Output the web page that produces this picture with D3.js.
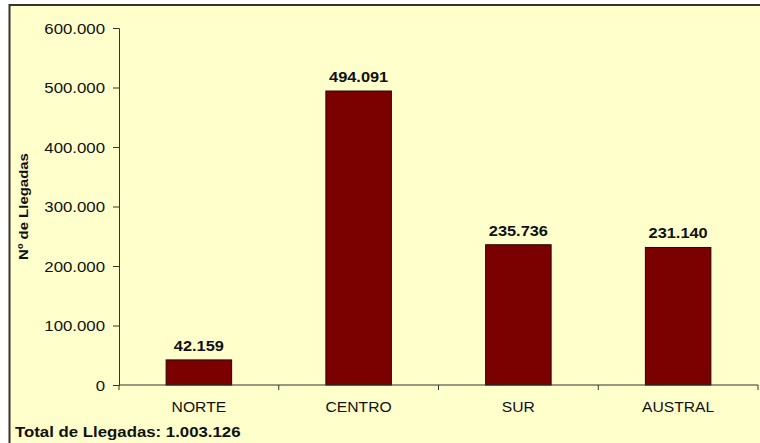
<!DOCTYPE html>
<html>
<head>
<meta charset="utf-8">
<script src="https://cdn.jsdelivr.net/npm/d3@7"></script>
<style>
  body { margin: 0; background: #fff; }
  svg text { font-family: Arial, "Liberation Sans", sans-serif; fill: #111; }
</style>
</head>
<body>
<svg id="chart" width="760" height="443"></svg>
<script>
// Llegadas por zona
const zonas = ['NORTE', 'CENTRO', 'SUR', 'AUSTRAL'];
const llegadas = [42159, 494091, 235736, 231140];
const yTicks = [0, 100000, 200000, 300000, 400000, 500000, 600000];
const totalLabel = 'Total de Llegadas: 1.003.126';

const W = 760, H = 443;
const margin = { left: 119, right: 2, top: 28, bottom: 58 };
const FONT = 14;

// thousands separated with a dot
const fmt = (v) => d3.format(',')(v).replace(/,/g, '.');

// the original text is drawn wider than Arial: stretch horizontally around the anchor
function stretch(sel, sx) {
    sel.each(function () {
        const t = d3.select(this);
        const x0 = +t.attr('x') || 0;
        const y0 = +t.attr('y') || 0;
        const prev = t.attr('transform') || '';
        t.attr('x', 0).attr('y', 0)
            .attr('transform', `${prev} translate(${x0},${y0}) scale(${sx},1)`);
    });
}

const svg = d3.select('#chart');

svg.append('rect')
    .attr('x', 9.5).attr('y', 5)
    .attr('width', W).attr('height', H)
    .attr('fill', '#ffffcc')
    .attr('stroke', '#333').attr('stroke-width', 2);

const x = d3.scaleBand()
    .domain(zonas)
    .range([margin.left, W - margin.right])
    .padding(0);

const y = d3.scaleLinear()
    .domain([0, 600000])
    .range([H - margin.bottom, margin.top]);

const barW = x.bandwidth() * 0.41;

const g = svg.append('g');

g.selectAll('rect.bar')
    .data(zonas)
    .join('rect')
    .attr('class', 'bar')
    .attr('x', (d) => x(d) + x.bandwidth() / 2 - barW / 2)
    .attr('y', (d, i) => y(llegadas[i]))
    .attr('width', barW)
    .attr('height', (d, i) => y(0) - y(llegadas[i]))
    .attr('fill', '#7b0000')
    .attr('stroke', '#2a0000')
    .attr('stroke-width', 1);

g.selectAll('text.val')
    .data(zonas)
    .join('text')
    .attr('class', 'val')
    .attr('x', (d) => x(d) + x.bandwidth() / 2)
    .attr('y', (d, i) => y(llegadas[i]) - 9)
    .attr('text-anchor', 'middle')
    .attr('font-size', FONT)
    .attr('font-weight', 'bold')
    .text((d, i) => fmt(llegadas[i]))
    .call(stretch, 1.17);

// y axis
const yAxis = svg.append('g')
    .attr('transform', `translate(${margin.left},0)`)
    .call(d3.axisLeft(y).tickValues(yTicks).tickFormat(fmt).tickSize(6).tickPadding(8));
yAxis.select('.domain').attr('stroke', '#333');
yAxis.selectAll('.tick line').attr('stroke', '#333');
yAxis.selectAll('.tick text')
    .attr('font-size', FONT).attr('fill', '#111')
    .attr('font-family', 'Arial, "Liberation Sans", sans-serif')
    .attr('dy', null).attr('dominant-baseline', null);
yAxis.selectAll('.tick text').attr('y', 5).call(stretch, 1.2);

// x axis: ticks between categories
const bounds = zonas.map((d) => x(d)).concat([x(zonas[zonas.length - 1]) + x.bandwidth()]);
const xAxis = svg.append('g');
xAxis.append('line')
    .attr('x1', margin.left).attr('x2', W - margin.right)
    .attr('y1', y(0)).attr('y2', y(0))
    .attr('stroke', '#333');
xAxis.selectAll('line.tk')
    .data(bounds)
    .join('line')
    .attr('class', 'tk')
    .attr('x1', (d) => d).attr('x2', (d) => d)
    .attr('y1', y(0)).attr('y2', y(0) + 5)
    .attr('stroke', '#333');
xAxis.selectAll('text.cat')
    .data(zonas)
    .join('text')
    .attr('class', 'cat')
    .attr('x', (d) => x(d) + x.bandwidth() / 2)
    .attr('y', y(0) + 27)
    .attr('text-anchor', 'middle')
    .attr('font-size', FONT)
    .text((d) => d)
    .call(stretch, 1.12);

// y label
svg.append('text')
    .attr('transform', `translate(28,${(y(0) + y(600000)) / 2}) rotate(-90) scale(1.15,1)`)
    .attr('text-anchor', 'middle')
    .attr('font-size', 13)
    .attr('font-weight', 'bold')
    .text('Nº de Llegadas');

svg.append('text')
    .attr('x', 15).attr('y', 437)
    .attr('font-size', FONT)
    .attr('font-weight', 'bold')
    .text(totalLabel)
    .call(stretch, 1.2);
</script>
</body>
</html>
